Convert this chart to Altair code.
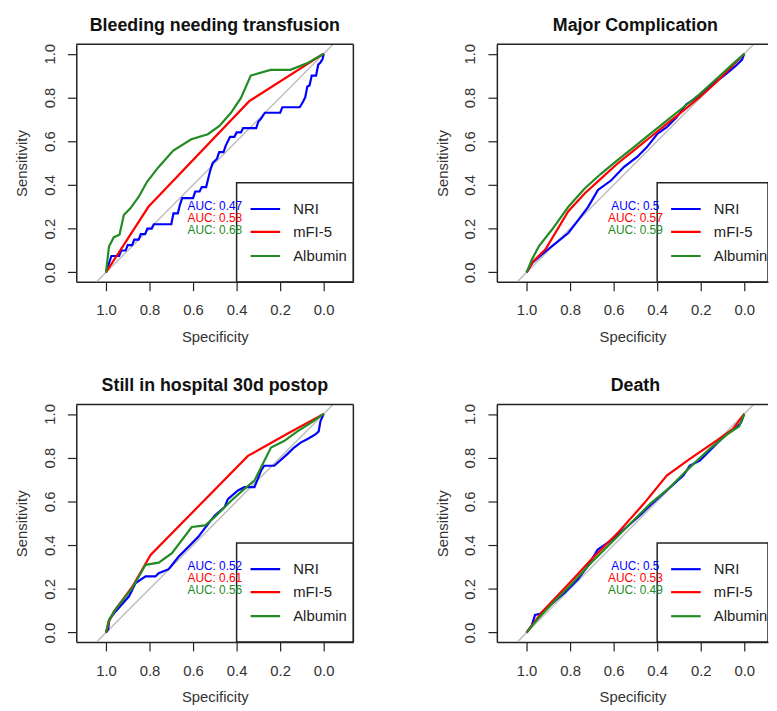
import altair as alt
import pandas as pd

SERIES = ["NRI", "mFI-5", "Albumin"]
COLORS = ["#0000FF", "#FF0000", "#228B22"]
TITLES = ["Bleeding needing transfusion", "Major Complication",
          "Still in hospital 30d postop", "Death"]
AUC_LABELS = [["0.47", "0.58", "0.68"], ["0.5", "0.57", "0.59"],
              ["0.52", "0.61", "0.56"], ["0.5", "0.53", "0.49"]]
TICKS = [0.0, 0.2, 0.4, 0.6, 0.8, 1.0]

# ---- Bleeding needing transfusion ----
bl_nri_spec = [1.0, 0.975, 0.94, 0.93, 0.91, 0.9, 0.88, 0.87, 0.85, 0.84, 0.82, 0.81, 0.79, 0.78, 0.7,
               0.69, 0.67, 0.66, 0.65, 0.6, 0.59, 0.57, 0.56, 0.54, 0.53, 0.52, 0.51, 0.49, 0.48, 0.46,
               0.45, 0.44, 0.43, 0.41, 0.40, 0.38, 0.37, 0.31, 0.3, 0.29, 0.27, 0.2, 0.19, 0.11, 0.095,
               0.085, 0.075, 0.065, 0.055, 0.035, 0.025, 0.015, 0.005, 0.0]
bl_nri_sens = [0.0, 0.075, 0.075, 0.1, 0.1, 0.125, 0.125, 0.15, 0.15, 0.175, 0.175, 0.2, 0.2, 0.22, 0.22,
               0.27, 0.27, 0.31, 0.34, 0.34, 0.37, 0.37, 0.39, 0.39, 0.43, 0.47, 0.5, 0.52, 0.55, 0.55,
               0.58, 0.6, 0.62, 0.62, 0.64, 0.64, 0.66, 0.66, 0.69, 0.7, 0.73, 0.73, 0.755, 0.755, 0.78,
               0.8, 0.85, 0.855, 0.9, 0.9, 0.95, 0.96, 0.975, 1.0]
bl_mfi_spec = [1.0, 0.805, 0.342, 0.0]
bl_mfi_sens = [0.0, 0.30, 0.783, 1.0]
bl_alb_spec = [1.0, 0.986, 0.964, 0.938, 0.918, 0.888, 0.85, 0.812, 0.759, 0.691, 0.608, 0.532, 0.479,
               0.426, 0.38, 0.335, 0.244, 0.153, 0.077, 0.0]
bl_alb_sens = [0.0, 0.119, 0.161, 0.172, 0.262, 0.293, 0.345, 0.413, 0.481, 0.557, 0.609, 0.632, 0.67,
               0.73, 0.798, 0.90, 0.926, 0.926, 0.956, 1.0]

# ---- Major Complication ----
mc_nri_spec = [1.0, 0.973, 0.928, 0.883, 0.808, 0.762, 0.717, 0.672, 0.612, 0.552, 0.492, 0.447, 0.40,
               0.356, 0.311, 0.266, 0.206, 0.146, 0.086, 0.041, 0.01, 0.0]
mc_nri_sens = [0.0, 0.045, 0.083, 0.12, 0.18, 0.24, 0.30, 0.377, 0.42, 0.483, 0.528, 0.573, 0.633,
               0.664, 0.709, 0.769, 0.807, 0.86, 0.905, 0.943, 0.973, 1.0]
mc_mfi_spec = [1.0, 0.97, 0.913, 0.808, 0.732, 0.657, 0.582, 0.507, 0.432, 0.356, 0.281, 0.206, 0.131,
               0.056, 0.0]
mc_mfi_sens = [0.0, 0.05, 0.106, 0.28, 0.362, 0.43, 0.498, 0.558, 0.618, 0.679, 0.739, 0.80, 0.867,
               0.943, 1.0]
mc_alb_spec = [1.0, 0.975, 0.943, 0.883, 0.808, 0.732, 0.657, 0.582, 0.507, 0.432, 0.356, 0.281, 0.206,
               0.131, 0.056, 0.0]
mc_alb_sens = [0.0, 0.06, 0.12, 0.196, 0.30, 0.385, 0.452, 0.513, 0.573, 0.633, 0.694, 0.754, 0.814,
               0.882, 0.95, 1.0]

# ---- Still in hospital 30d postop ----
sh_nri_spec = [1.0, 0.99, 0.985, 0.955, 0.894, 0.864, 0.818, 0.773, 0.758, 0.712, 0.667, 0.621, 0.576,
               0.53, 0.5, 0.455, 0.44, 0.394, 0.364, 0.318, 0.288, 0.273, 0.227, 0.167, 0.136, 0.106,
               0.076, 0.038, 0.023, 0.015, 0.0]
sh_nri_sens = [0.0, 0.015, 0.06, 0.098, 0.166, 0.227, 0.257, 0.257, 0.272, 0.29, 0.347, 0.393, 0.438,
               0.498, 0.536, 0.574, 0.61, 0.65, 0.665, 0.665, 0.74, 0.763, 0.763, 0.816, 0.846, 0.869,
               0.884, 0.906, 0.92, 0.966, 1.0]
sh_mfi_spec = [1.0, 0.985, 0.962, 0.879, 0.795, 0.348, 0.167, 0.0]
sh_mfi_sens = [0.0, 0.053, 0.098, 0.21, 0.355, 0.808, 0.909, 1.0]
sh_alb_spec = [1.0, 0.988, 0.962, 0.879, 0.818, 0.758, 0.697, 0.606, 0.545, 0.5, 0.424, 0.364, 0.318,
               0.273, 0.242, 0.182, 0.121, 0.061, 0.0]
sh_alb_sens = [0.0, 0.053, 0.098, 0.204, 0.31, 0.32, 0.363, 0.483, 0.49, 0.529, 0.604, 0.657, 0.695,
               0.785, 0.846, 0.876, 0.92, 0.958, 1.0]

# ---- Death ----
de_nri_spec = [1.0, 0.976, 0.961, 0.938, 0.885, 0.824, 0.764, 0.719, 0.673, 0.628, 0.582, 0.537, 0.477,
               0.431, 0.356, 0.28, 0.25, 0.204, 0.129, 0.083, 0.038, 0.015, 0.0]
de_nri_sens = [0.0, 0.033, 0.081, 0.086, 0.131, 0.184, 0.244, 0.304, 0.38, 0.41, 0.447, 0.485, 0.538,
               0.583, 0.651, 0.718, 0.764, 0.786, 0.861, 0.907, 0.937, 0.96, 1.0]
de_mfi_spec = [1.0, 0.93, 0.794, 0.703, 0.582, 0.461, 0.356, 0.25, 0.129, 0.053, 0.0]
de_mfi_sens = [0.0, 0.093, 0.236, 0.334, 0.455, 0.59, 0.718, 0.794, 0.877, 0.93, 1.0]
de_alb_spec = [1.0, 0.961, 0.885, 0.794, 0.703, 0.612, 0.522, 0.431, 0.34, 0.25, 0.16, 0.068, 0.023, 0.0]
de_alb_sens = [0.0, 0.048, 0.131, 0.221, 0.319, 0.41, 0.50, 0.59, 0.666, 0.756, 0.839, 0.914, 0.944, 1.0]

CURVES = [
    [(bl_nri_spec, bl_nri_sens), (bl_mfi_spec, bl_mfi_sens), (bl_alb_spec, bl_alb_sens)],
    [(mc_nri_spec, mc_nri_sens), (mc_mfi_spec, mc_mfi_sens), (mc_alb_spec, mc_alb_sens)],
    [(sh_nri_spec, sh_nri_sens), (sh_mfi_spec, sh_mfi_sens), (sh_alb_spec, sh_alb_sens)],
    [(de_nri_spec, de_nri_sens), (de_mfi_spec, de_mfi_sens), (de_alb_spec, de_alb_sens)],
]

# annotation placement (data units)
AUC_SPEC = 0.5
AUC_SENS = [0.305, 0.25, 0.195]
LEG_SENS = [0.29, 0.185, 0.075]
LEG_LINE_SPEC = (0.336, 0.2)
LEG_TEXT_SPEC = 0.14
LEG_BOX = (0.40, 0.41)

PX_PER_UNIT = 220
X_LEFT = 1.1364
Y_LO, Y_HI = -0.043, 1.043
H = 240
INK = "#222222"

color_scale = alt.Scale(domain=SERIES, range=COLORS)


def panel(i, right):
    w = 274 if right else 280
    x_right = X_LEFT - w / PX_PER_UNIT
    xscale = alt.Scale(domain=[X_LEFT, x_right], nice=False, zero=False)
    yscale = alt.Scale(domain=[Y_LO, Y_HI], nice=False, zero=False)
    xaxis = alt.Axis(values=TICKS, format=".1f", title="Specificity", grid=False,
                     tickSize=9, tickColor=INK, tickWidth=1.2, domainColor=INK, domainWidth=1.5,
                     labelFontSize=15, labelColor="#333", labelPadding=24.5,
                     labelBaseline="alphabetic", labelFlush=False, labelOverlap=False,
                     titleFontSize=15, titleFontWeight="normal", titleColor="#333",
                     titleY=60, titleBaseline="alphabetic")
    yaxis = alt.Axis(values=TICKS, format=".1f", title="Sensitivity", grid=False,
                     tickSize=9, tickColor=INK, tickWidth=1.2, domainColor=INK, domainWidth=1.5,
                     labelFontSize=15, labelColor="#333", labelPadding=13.5,
                     labelAngle=270, labelAlign="center", labelBaseline="alphabetic",
                     labelFlush=False, labelOverlap=False,
                     titleFontSize=15, titleFontWeight="normal", titleColor="#333",
                     titleAngle=270, titleX=-50, titleY=H / 2, titleBaseline="alphabetic",
                     titleAlign="center")
    X = lambda f: alt.X(f, type="quantitative", scale=xscale, axis=xaxis)
    Y = lambda f: alt.Y(f, type="quantitative", scale=yscale, axis=yaxis)
    C = alt.Color("series:N", scale=color_scale, legend=None)

    # chance diagonal across the plotting region
    diag = alt.Chart(pd.DataFrame({"spec": [1 - Y_LO, 1 - Y_HI], "sens": [Y_LO, Y_HI]})).mark_line(
        color="#BEBEBE", strokeWidth=1.5, clip=True).encode(x=X("spec"), y=Y("sens"))

    layers = [diag]
    for k, (sp, se) in enumerate(CURVES[i]):
        df = pd.DataFrame({"spec": sp, "sens": se, "ord": list(range(len(sp))),
                           "series": SERIES[k]})
        layers.append(alt.Chart(df).mark_line(strokeWidth=2.2, clip=True).encode(
            x=X("spec"), y=Y("sens"), color=C, order="ord:Q"))

    box = alt.Chart(pd.DataFrame({"spec": [LEG_BOX[0]], "spec2": [x_right],
                                  "sens": [LEG_BOX[1]], "sens2": [Y_LO]})).mark_rect(
        fillOpacity=0, stroke=INK, strokeWidth=1.5, clip=True).encode(
        x=X("spec"), x2="spec2", y=Y("sens"), y2="sens2")

    leg = pd.DataFrame({"series": SERIES, "sens": LEG_SENS,
                        "spec": [LEG_LINE_SPEC[0]] * 3, "spec2": [LEG_LINE_SPEC[1]] * 3,
                        "tspec": [LEG_TEXT_SPEC] * 3})
    legrules = alt.Chart(leg).mark_rule(strokeWidth=2.2, clip=True).encode(
        x=X("spec"), x2="spec2", y=Y("sens"), color=C)
    legtext = alt.Chart(leg).mark_text(align="left", baseline="middle", fontSize=15,
                                       color=INK, clip=True).encode(
        x=X("tspec"), y=Y("sens"), text="series:N")

    auc = pd.DataFrame({"series": SERIES, "sens": AUC_SENS, "spec": [AUC_SPEC] * 3,
                        "label": ["AUC: " + a for a in AUC_LABELS[i]]})
    auctext = alt.Chart(auc).mark_text(align="center", baseline="middle", fontSize=12,
                                       clip=True).encode(
        x=X("spec"), y=Y("sens"), text="label:N", color=C)

    frame_df = pd.DataFrame({"a": [0]})
    top = alt.Chart(frame_df).mark_rule(color=INK, strokeWidth=1.5).encode(
        x=alt.value(0), x2=alt.value(w), y=alt.value(0))
    layers += [box, legrules, legtext, auctext, top]
    if not right:
        rside = alt.Chart(frame_df).mark_rule(color=INK, strokeWidth=1.5).encode(
            x=alt.value(w), y=alt.value(0), y2=alt.value(H))
        layers.append(rside)

    return alt.layer(*layers).properties(
        width=w, height=H,
        title=alt.TitleParams(TITLES[i], fontSize=18, fontWeight="bold", color="#111",
                              offset=-5, baseline="alphabetic", frame="group",
                              dx=(3 if right else 0)),
        view=alt.ViewBackground(stroke=None))


chart = alt.concat(panel(0, False), panel(1, True), panel(2, False), panel(3, True),
                   columns=2, spacing={"row": 124, "column": 145}, bounds="flush").properties(
    padding={"left": 7, "top": 5, "right": 0, "bottom": 0}
).configure(font="Liberation Sans").configure_view(stroke=None)

chart.save("out.html", embed_options={"renderer": "svg", "actions": False})
